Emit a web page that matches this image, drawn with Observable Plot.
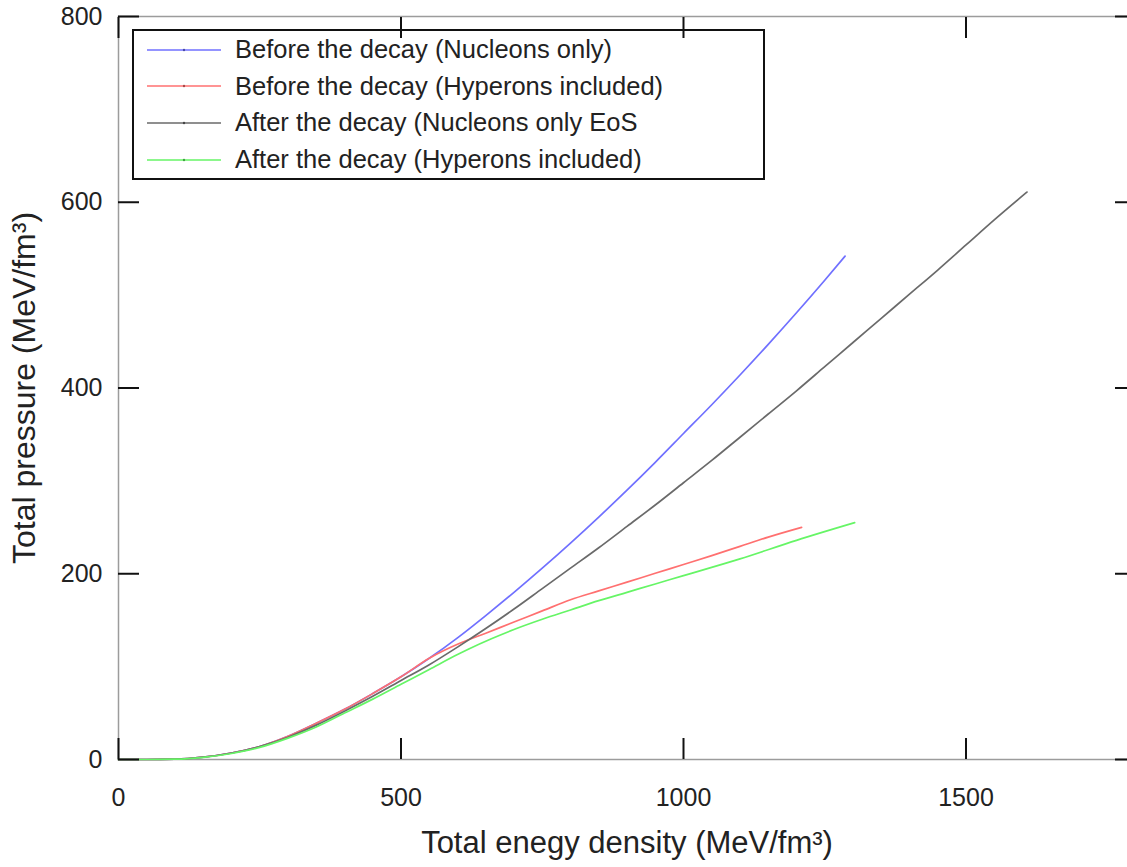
<!DOCTYPE html>
<html>
<head>
<meta charset="utf-8">
<script src="https://cdn.jsdelivr.net/npm/d3@7"></script>
<script src="https://cdn.jsdelivr.net/npm/@observablehq/plot@0.6"></script>
<style>
  html, body { margin: 0; padding: 0; background: white; overflow: hidden; }
  #wrap { position: relative; width: 1140px; height: 867px; }
  #legend {
    position: absolute; left: 132px; top: 29px; width: 629px; height: 147px;
    border: 2px solid #111; box-sizing: content-box;
    font-family: 'Liberation Sans', Arial, sans-serif; font-size: 25.5px; color: #222;
  }
  .row { position: absolute; left: 0; height: 36px; display: flex; align-items: center; white-space: nowrap; }
  .row svg { margin-left: 13px; margin-right: 14px; }
</style>
</head>
<body>
<div id="wrap"><div id="legend"></div></div>
<script>
const seriesNames = [
  "Before the decay (Nucleons only)",
  "Before the decay (Hyperons included)",
  "After the decay (Nucleons only EoS",
  "After the decay (Hyperons included)"
];
const seriesColors = ["#7070ff", "#ff7070", "#6a6a6a", "#66f566"];

// Before the decay (Nucleons only)
const blueX = [0, 50, 100, 150, 200, 250, 300, 350, 400, 450, 500, 550, 600, 650, 700, 750, 800, 850, 900, 950, 1000, 1050, 1100, 1150, 1200, 1250, 1286];
const blueY = [0, 0, 0.3, 2.5, 7, 14, 25, 39, 54, 71, 89, 109, 131, 155, 180, 206, 233, 261, 290, 320, 351, 382, 414, 447, 481, 516, 542];
// Before the decay (Hyperons included)
const redX = [0, 50, 100, 150, 200, 250, 300, 350, 400, 450, 500, 550, 575, 600, 650, 700, 750, 800, 850, 900, 950, 1000, 1050, 1100, 1150, 1209];
const redY = [0, 0, 0.3, 2.5, 7, 14, 25, 39, 54, 71, 89, 109, 117, 124, 136, 148, 160, 172, 181.5, 191, 200.5, 210, 219.5, 229.5, 239.5, 250];
// After the decay (Nucleons only EoS)
const grayX = [0, 50, 100, 150, 200, 250, 300, 350, 400, 450, 500, 550, 600, 650, 700, 750, 800, 850, 900, 950, 1000, 1050, 1100, 1150, 1200, 1250, 1300, 1350, 1400, 1450, 1500, 1550, 1608];
const grayY = [0, 0, 0.3, 2.5, 7, 14, 24, 37, 52, 68, 85, 102, 121, 141, 162, 184, 206, 228, 251, 274, 298, 322, 347, 372, 397, 423, 449, 475, 501, 527, 554, 581, 611];
// After the decay (Hyperons included)
const greenX = [0, 50, 100, 150, 200, 250, 300, 350, 400, 450, 500, 550, 600, 620, 660, 700, 750, 800, 850, 900, 950, 1000, 1100, 1200, 1303];
const greenY = [0, 0, 0.3, 2.3, 6.5, 13, 23, 35, 50, 65, 81, 97, 113, 119, 130, 140, 151, 161, 171, 180, 189, 198, 216, 236, 255];

const xTicks = [0, 500, 1000, 1500];
const yTicks = [0, 200, 400, 600, 800];
const xLabel = "Total enegy density (MeV/fm³)";
const yLabel = "Total pressure (MeV/fm³)";

const seriesXY = [[blueX, blueY], [redX, redY], [grayX, grayY], [greenX, greenY]];
const rows = [];
seriesXY.forEach(([xs, ys], i) => xs.forEach((x, j) => rows.push({series: seriesNames[i], x, y: ys[j]})));

const tickStyle = {stroke: "#111", strokeWidth: 2, fill: "none", label: null, tickSize: 21};
const fmt = d3.format("d");

const chart = Plot.plot({
  width: 1140,
  height: 867,
  marginLeft: 118,
  marginRight: 5,
  marginTop: 16,
  marginBottom: 108,
  style: {fontFamily: "'Liberation Sans', Arial, sans-serif", fontSize: "25px", color: "#222", background: "white"},
  x: {domain: [0, 1800]},
  y: {domain: [0, 800]},
  color: {domain: seriesNames, range: seriesColors},
  marks: [
    Plot.frame({stroke: "#9c9c9c", strokeWidth: 1.5}),
    Plot.line(rows, {x: "x", y: "y", z: "series", stroke: "series", strokeWidth: 1.7, curve: "monotone-x"}),
    Plot.axisX(xTicks, {...tickStyle, anchor: "bottom", dy: -21}),
    Plot.axisX(xTicks, {...tickStyle, anchor: "top", dy: 21}),
    Plot.axisY(yTicks, {...tickStyle, anchor: "left", dx: 21}),
    Plot.axisY(yTicks, {...tickStyle, anchor: "right", dx: -21}),
    Plot.axisX(xTicks, {anchor: "bottom", tickSize: 0, tickPadding: 29, tickFormat: fmt, label: null, fill: "#222"}),
    Plot.axisY(yTicks, {anchor: "left", tickSize: 0, tickPadding: 16, tickFormat: fmt, label: null, fill: "#222"}),
    Plot.axisX([], {anchor: "bottom", tickSize: 0, label: xLabel, labelAnchor: "center", labelOffset: 93, labelArrow: "none", fontSize: 31, fill: "#222"}),
    Plot.axisY([], {anchor: "left", tickSize: 0, label: yLabel, labelAnchor: "center", labelOffset: 106, labelArrow: "none", fontSize: 32, fill: "#222"})
  ]
});
const wrap = document.getElementById("wrap");
wrap.insertBefore(chart, wrap.firstChild);

const legend = document.getElementById("legend");
seriesNames.forEach((name, i) => {
  const row = document.createElement("div");
  row.className = "row";
  row.style.top = (0.5 + i * 36.7) + "px";
  const c = seriesColors[i];
  row.innerHTML = `<svg width="74" height="6"><line x1="0" y1="3" x2="74" y2="3" stroke="${c}" stroke-width="1.7"/><circle cx="37" cy="3" r="1.2" fill="${d3.color(c).darker(1.2)}"/></svg><span>${name}</span>`;
  legend.appendChild(row);
});
</script>
</body>
</html>
